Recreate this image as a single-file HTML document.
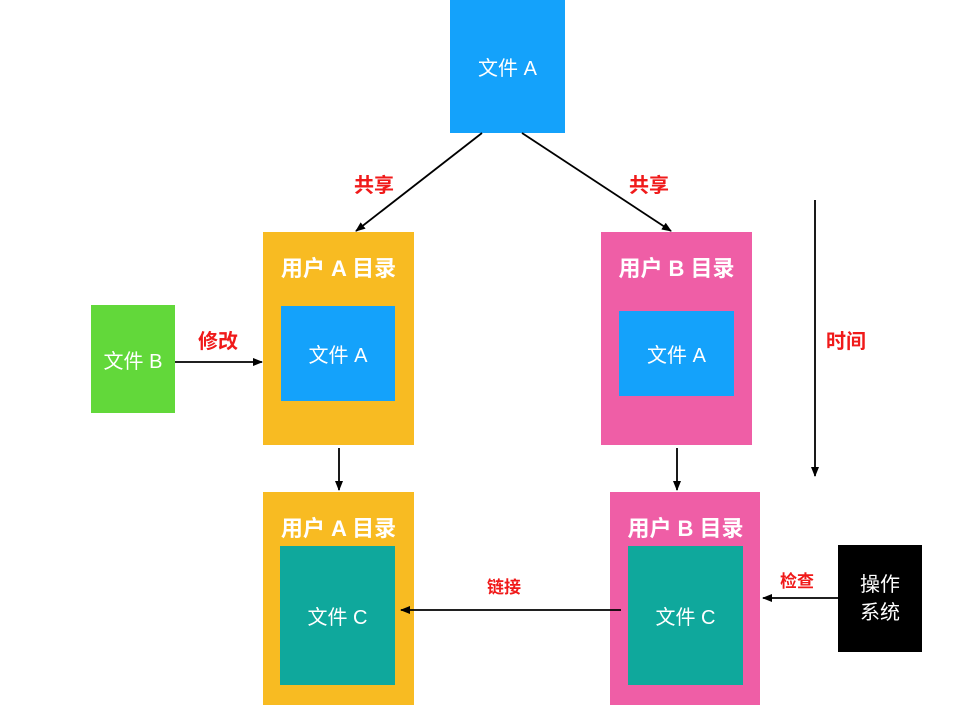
<!DOCTYPE html>
<html><head><meta charset="utf-8"><style>
body{margin:0;width:960px;height:720px;background:#fff;position:relative;overflow:hidden;font-family:"Liberation Sans","Noto Sans CJK SC",sans-serif}
.b{position:absolute;color:#fff;display:flex;align-items:center;justify-content:center;font-size:20px}
.t{position:absolute;color:#fff;font-size:22px;width:151px;text-align:center;font-weight:bold}
.r{position:absolute;color:#f01a1a;font-size:20px;font-weight:bold}
</style></head><body>
<div class="b" style="left:450px;top:0;width:115px;height:133px;background:#14a2fb">文件 A</div>
<div class="b" style="left:263px;top:232px;width:151px;height:213px;background:#f8bb22"></div>
<div class="t" style="left:263px;top:251px">用户 A 目录</div>
<div class="b" style="left:281px;top:306px;width:114px;height:95px;background:#14a2fb">文件 A</div>
<div class="b" style="left:601px;top:232px;width:151px;height:213px;background:#ef5ea6"></div>
<div class="t" style="left:601px;top:251px">用户 B 目录</div>
<div class="b" style="left:619px;top:311px;width:115px;height:85px;background:#14a2fb">文件 A</div>
<div class="b" style="left:91px;top:305px;width:84px;height:108px;background:#62d83a">文件 B</div>
<div class="b" style="left:263px;top:492px;width:151px;height:213px;background:#f8bb22"></div>
<div class="t" style="left:263px;top:511px">用户 A 目录</div>
<div class="b" style="left:280px;top:546px;width:115px;height:139px;background:#0fa89c">文件 C</div>
<div class="b" style="left:610px;top:492px;width:150px;height:213px;background:#ef5ea6"></div>
<div class="t" style="left:610px;top:511px">用户 B 目录</div>
<div class="b" style="left:628px;top:546px;width:115px;height:139px;background:#0fa89c">文件 C</div>
<div class="b" style="left:838px;top:545px;width:84px;height:107px;background:#000;line-height:28px;text-align:center">操作<br>系统</div>
<div class="r" style="left:354px;top:169px">共享</div>
<div class="r" style="left:629px;top:169px">共享</div>
<div class="r" style="left:198px;top:325px">修改</div>
<div class="r" style="left:826px;top:325px">时间</div>
<div class="r" style="left:487px;top:573px;font-size:17px">链接</div>
<div class="r" style="left:780px;top:567px;font-size:17px">检查</div>
<svg width="960" height="720" style="position:absolute;left:0;top:0">
<defs><marker id="a" markerWidth="10" markerHeight="8" refX="9" refY="4" orient="auto" markerUnits="userSpaceOnUse"><path d="M0,0L10,4L0,8z" fill="#000"/></marker></defs>
<g stroke="#000" stroke-width="1.8" marker-end="url(#a)">
<line x1="482" y1="133" x2="356" y2="231"/>
<line x1="522" y1="133" x2="671" y2="231"/>
<line x1="175" y1="362" x2="262" y2="362"/>
<line x1="339" y1="448" x2="339" y2="490"/>
<line x1="677" y1="448" x2="677" y2="490"/>
<line x1="815" y1="200" x2="815" y2="476"/>
<line x1="621" y1="610" x2="401" y2="610"/>
<line x1="838" y1="598" x2="763" y2="598"/>
</g></svg>
</body></html>
